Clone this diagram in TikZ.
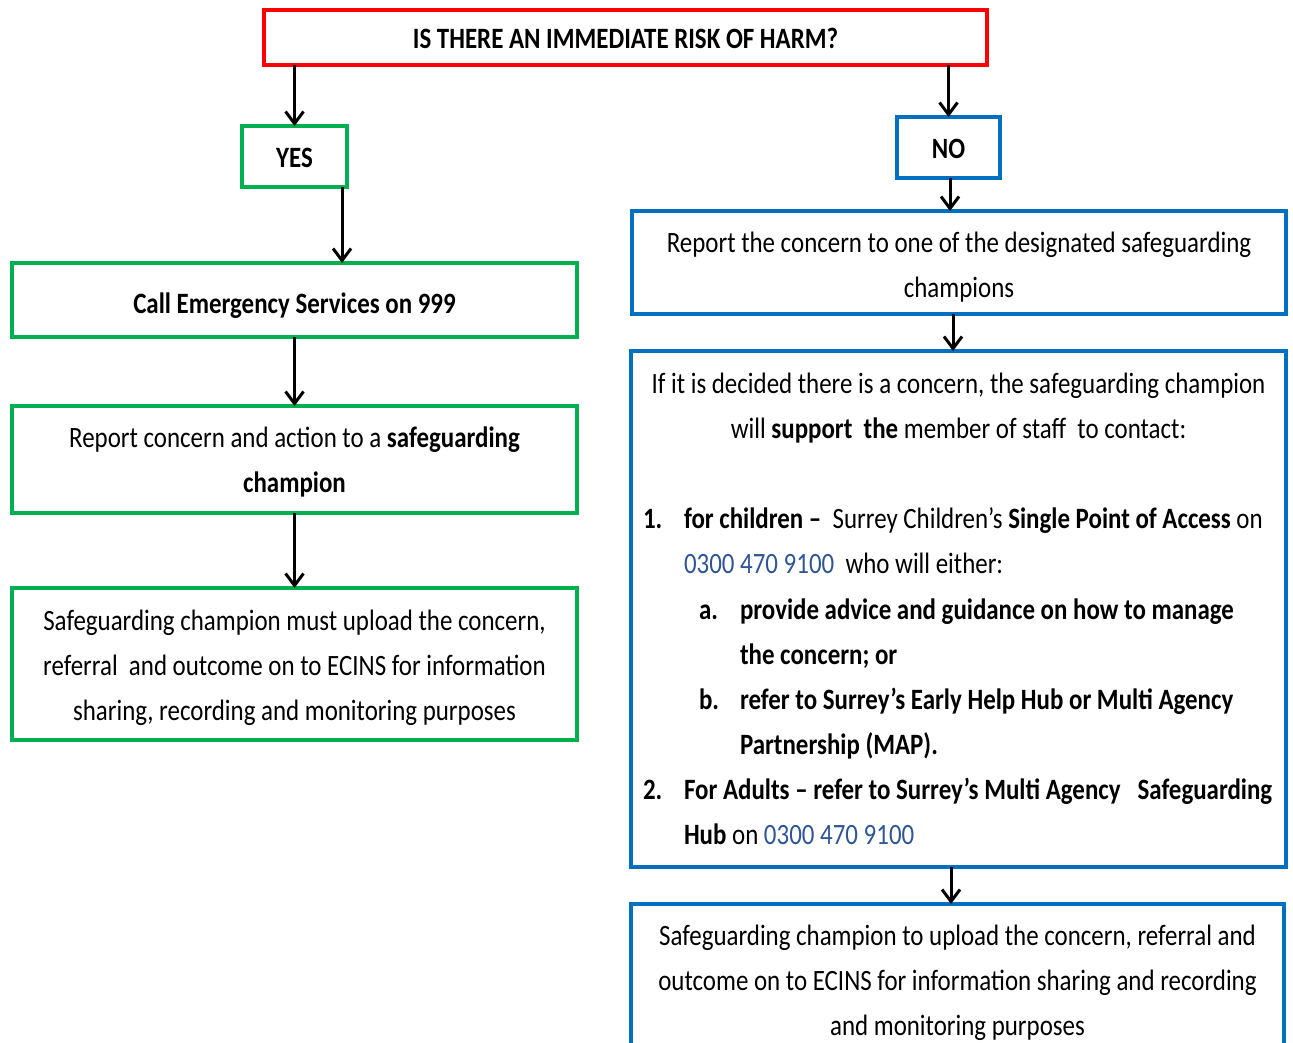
\documentclass[tikz,border=0pt]{standalone}
\usepackage{fontspec}
\setmainfont{Carlito}[FakeStretch=0.845]
\usetikzlibrary{arrows.meta,calc}
\definecolor{gr}{RGB}{0,176,80}
\definecolor{bl}{RGB}{0,112,192}
\definecolor{rd}{RGB}{255,0,0}
\definecolor{ph}{RGB}{47,85,151}
\tikzset{
  box/.style={draw=#1, line width=4pt, inner sep=0pt, outer sep=0pt},
  arr/.style={line width=3pt, -{Straight Barb[length=12pt,width=18pt,line width=3pt]}},
  txt/.style={inner sep=0pt, outer sep=0pt, align=center, font=\fontsize{29.5}{45}\selectfont}
}
\begin{document}
\begin{tikzpicture}[x=1pt,y=-1pt]
\useasboundingbox (0,0) rectangle (1293,1043);
\node[box=rd, minimum width=723pt, minimum height=55pt] (top) at (625.5,37.5) {};
\node[box=gr, minimum width=105pt, minimum height=61pt] (yes) at (294.5,156.5) {};
\node[box=bl, minimum width=103pt, minimum height=61pt] (no) at (948.5,147.5) {};
\node[box=gr, minimum width=565pt, minimum height=74pt] (call) at (294.5,300) {};
\node[box=gr, minimum width=565pt, minimum height=107pt] (rep) at (294.5,459.5) {};
\node[box=gr, minimum width=565pt, minimum height=152pt] (safe) at (294.5,664) {};
\node[box=bl, minimum width=654pt, minimum height=103pt] (rep2) at (959,262.5) {};
\node[box=bl, minimum width=655pt, minimum height=516pt] (big) at (958.5,609) {};
\node[box=bl, minimum width=653pt, minimum height=154pt] (last) at (957.5,981) {};
% box texts
\node[txt] (topt) at ([yshift=-1pt]top.center) {\bfseries IS THERE AN IMMEDIATE RISK OF HARM?};
\node[txt] (yest) at ([yshift=-1pt]yes.center) {\bfseries YES};
\node[txt] (not) at ([yshift=-1pt]no.center) {\bfseries NO};
\node[txt] (callt) at ([yshift=-6pt]call.center) {\bfseries Call Emergency Services on 999};
\node[txt] (rept) at ([yshift=-2pt]rep.center) {Report concern and action to a \textbf{safeguarding}\\\textbf{champion}};
\node[txt] (safet) at ([yshift=-4pt]safe.center) {Safeguarding champion must upload the concern,\\referral\ \ and outcome on to ECINS for information\\sharing, recording and monitoring purposes};
\node[txt] (rep2t) at ([yshift=-5pt]rep2.center) {Report the concern to one of the designated safeguarding\\champions};
\node[txt] (lastt) at ([yshift=-2pt]last.center) {Safeguarding champion to upload the concern, referral and\\outcome\ on to ECINS for information sharing and recording\\and monitoring purposes};
% big box text
\node[txt, anchor=base] (b1) at (958.5,393) {If it is decided there is a concern, the safeguarding champion};
\node[txt, anchor=base] (b2) at (958.5,438) {will \textbf{support\ \ the} member of staff\ \ to contact:};
\node[txt, anchor=base west] (n1) at (643,528) {\textbf{1.}};
\node[txt, anchor=base west] (l1) at (684,528) {\textbf{for children –}\ \ Surrey Children’s \textbf{Single Point of Access} on};
\node[txt, anchor=base west] (l2) at (684,573) {\textcolor{ph}{0300 470 9100}\ \ who will either:};
\node[txt, anchor=base west] (na) at (699,619) {\textbf{a.}};
\node[txt, anchor=base west] (l3) at (740,619) {\textbf{provide advice and guidance on how to manage}};
\node[txt, anchor=base west] (l4) at (740,664) {\textbf{the concern; or}};
\node[txt, anchor=base west] (nb) at (699,709) {\textbf{b.}};
\node[txt, anchor=base west] (l5) at (740,709) {\textbf{refer to Surrey’s Early Help Hub or Multi Agency}};
\node[txt, anchor=base west] (l6) at (740,754) {\textbf{Partnership (MAP).}};
\node[txt, anchor=base west] (n2) at (643,799) {\textbf{2.}};
\node[txt, anchor=base west] (l7) at (684,799) {\textbf{For Adults – refer to Surrey’s Multi Agency\ \ \ Safeguarding}};
\node[txt, anchor=base west] (l8) at (684,844) {\textbf{Hub} on \textcolor{ph}{0300 470 9100}};
% connectors
\coordinate (cx1) at (342,0);
\coordinate (cx2) at (953,0);
\coordinate (cx3) at (951,0);
\coordinate (cx4) at (950,0);
\draw[arr] (yes.north |- top.south) -- (yes.north);
\draw[arr] (no.north |- top.south) -- (no.north);
\draw[arr] (yes.south -| cx1) -- (call.north -| cx1);
\draw[arr] (call.south) -- (rep.north);
\draw[arr] (rep.south -| call.south) -- (safe.north -| call.south);
\draw[arr] (no.south -| cx4) -- (rep2.north -| cx4);
\draw[arr] (rep2.south -| cx2) -- (big.north -| cx2);
\draw[arr] (big.south -| cx3) -- (last.north -| cx3);
\end{tikzpicture}
\end{document}
